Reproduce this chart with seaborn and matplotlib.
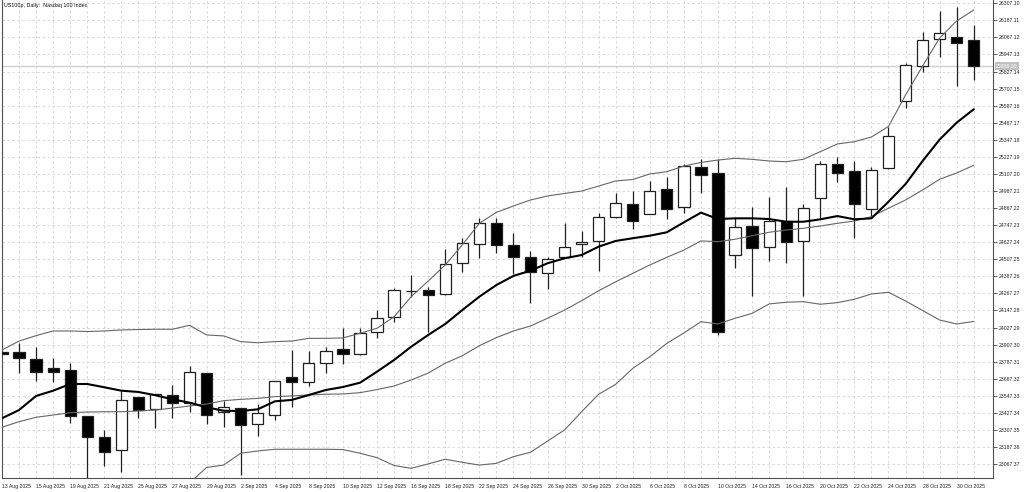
import numpy as np
import pandas as pd
import seaborn as sns
import matplotlib.pyplot as plt

# trading days shown on the chart (US100p, daily)
dates = pd.bdate_range('2025-08-13', '2025-10-31')
date_labels = [f"{d.day} {d.strftime('%b %Y')}" for d in dates]

opens = [23853, 23853, 23806, 23745, 23729, 23405, 23255, 23166, 23537, 23452,
         23551, 23494, 23705, 23435, 23459, 23347, 23412, 23677, 23646, 23776,
         23876, 23839, 23998, 24103, 24282, 24289, 24261, 24479, 24612, 24764,
         24610, 24525, 24408, 24521, 24612, 24638, 24802, 24894, 24823, 24999,
         24873, 25156, 25114, 24537, 24741, 24591, 24776, 24636, 24936, 25177,
         25130, 24861, 25147, 25620, 25868, 26054, 26068, 26049]
highs = [23855, 23920, 23890, 23813, 23778, 23405, 23307, 23581, 23539, 23560,
         23623, 23757, 23710, 23513, 23461, 23489, 23652, 23869, 23864, 23892,
         24022, 24026, 24150, 24303, 24397, 24310, 24577, 24655, 24795, 24795,
         24690, 24567, 24521, 24764, 24706, 24830, 24975, 24989, 25060, 25084,
         25177, 25209, 25210, 24795, 24877, 24947, 25013, 24896, 25200, 25224,
         25200, 25154, 25439, 25889, 26107, 26253, 26279, 26155]
lows = [23841, 23710, 23653, 23646, 23358, 22970, 23053, 23013, 23389, 23319,
        23389, 23435, 23349, 23330, 22990, 23264, 23377, 23470, 23616, 23705,
        23769, 23837, 23956, 24068, 24244, 23998, 24259, 24420, 24514, 24553,
        24404, 24202, 24296, 24520, 24525, 24425, 24795, 24718, 24822, 24790,
        24830, 24975, 23975, 24444, 24251, 24497, 24479, 24249, 24799, 25053,
        24659, 24807, 25145, 25569, 25826, 25927, 25728, 25768]
closes = [23843, 23815, 23717, 23717, 23405, 23255, 23154, 23515, 23447, 23558,
          23494, 23712, 23412, 23466, 23342, 23424, 23651, 23642, 23776, 23864,
          23839, 23987, 24096, 24291, 24286, 24256, 24472, 24619, 24764, 24608,
          24521, 24416, 24507, 24596, 24626, 24801, 24901, 24776, 24987, 24861,
          25163, 25100, 23998, 24732, 24589, 24776, 24631, 24866, 25175, 25116,
          24896, 25135, 25374, 25873, 26049, 26096, 26026, 25866]

ma_fast = [23389, 23447, 23546, 23583, 23630, 23630, 23607, 23583, 23574, 23551,
           23522, 23499, 23466, 23442, 23440, 23452, 23508, 23518, 23553, 23588,
           23609, 23639, 23717, 23799, 23892, 23975, 24052, 24150, 24244, 24326,
           24390, 24427, 24479, 24514, 24537, 24596, 24636, 24655, 24673, 24697,
           24767, 24835, 24790, 24795, 24795, 24790, 24771, 24771, 24788, 24811,
           24788, 24795, 24912, 25036, 25198, 25349, 25468, 25562]
bb_mid = [23326, 23365, 23396, 23412, 23428, 23433, 23435, 23435, 23440, 23447,
          23461, 23475, 23489, 23513, 23522, 23529, 23541, 23546, 23553, 23558,
          23560, 23569, 23591, 23616, 23658, 23707, 23776, 23829, 23899, 23956,
          24003, 24038, 24092, 24150, 24216, 24286, 24349, 24408, 24467, 24521,
          24572, 24636, 24631, 24648, 24673, 24697, 24713, 24725, 24741, 24760,
          24776, 24807, 24866, 24924, 24994, 25070, 25114, 25168]
bb_upper = [23869, 23932, 23970, 24003, 24003, 23999, 24003, 24010, 24013, 24015,
            24015, 24043, 23975, 23968, 23928, 23920, 23928, 23932, 23951, 23951,
            23954, 23987, 24022, 24103, 24244, 24354, 24467, 24608, 24760, 24837,
            24882, 24924, 24952, 24970, 24987, 25022, 25058, 25068, 25107, 25123,
            25163, 25188, 25205, 25217, 25210, 25198, 25193, 25210, 25264, 25318,
            25334, 25367, 25441, 25662, 25866, 26063, 26183, 26260]
bb_lower = [22782, 22797, 22821, 22821, 22854, 22867, 22866, 22861, 22867, 22880,
            22908, 22934, 23043, 23060, 23143, 23159, 23171, 23171, 23171, 23171,
            23169, 23143, 23112, 23057, 23037, 23068, 23101, 23079, 23060, 23072,
            23119, 23150, 23229, 23307, 23435, 23558, 23628, 23740, 23822, 23916,
            23989, 24068, 24052, 24092, 24127, 24193, 24205, 24209, 24191, 24202,
            24226, 24263, 24275, 24214, 24147, 24080, 24052, 24070]

price_ticks = 26307.10 - 119.99 * np.arange(28)

sns.set_style('white')
plt.rcParams['font.family'] = ['Liberation Sans', 'DejaVu Sans']

fig = plt.figure(figsize=(10.24, 4.92), dpi=100)
ax = fig.add_axes([2 / 1024, 14 / 492, 991 / 1024, 478 / 492])

x = np.arange(len(dates))
o, h, l, c = (np.array(v, dtype=float) for v in (opens, highs, lows, closes))
up = c >= o

# candles: wicks under bodies, indicator lines on top
ax.vlines(x, l, h, color='#202020', lw=0.9, zorder=2)
body_h = np.maximum(np.abs(c - o), 0.5)
ax.bar(x, body_h, bottom=np.minimum(o, c), width=0.66,
       color=np.where(up, 'white', 'black'), edgecolor='#202020',
       linewidth=0.9, zorder=3)

band_kw = dict(ax=ax, color='#666666', linewidth=0.8, zorder=4, legend=False)
sns.lineplot(x=x, y=bb_upper, **band_kw)
sns.lineplot(x=x, y=bb_mid, **band_kw)
sns.lineplot(x=x, y=bb_lower, **band_kw)
sns.lineplot(x=x, y=ma_fast, ax=ax, color='black', linewidth=1.5, zorder=5, legend=False)

# last price line + label
ax.axhline(c[-1], color='#d0d0d0', lw=1.0, zorder=1)
ax.text(1.003, c[-1], f"{c[-1]:.2f}", transform=ax.get_yaxis_transform(),
        ha='left', va='center', fontsize=3.7, color='white',
        bbox=dict(boxstyle='square,pad=0.2', fc='#c0c0c0', ec='none'))

ax.text(0.002, 0.993, "US100p, Daily:  Nasdaq 100 Index", transform=ax.transAxes,
        ha='left', va='top', fontsize=3.9, color='#101010')

ax.set_xlim(0.04, 58.13)
ax.set_ylim(22969.0, 26330.3)

ax.yaxis.tick_right()
ax.set_yticks(price_ticks)
ax.set_yticklabels([f"{v:.2f}" for v in price_ticks])
ax.set_xticks(x[::2])
ax.set_xticklabels(date_labels[::2])
ax.set_xticks(x, minor=True)
plt.setp(ax.get_xticklabels(), ha='left')

ax.tick_params(axis='y', which='major', direction='out', length=3, width=0.6,
               pad=1, labelsize=3.7, color='#404040', labelcolor='#202020')
ax.tick_params(axis='x', which='major', direction='out', length=3, width=0.6,
               pad=1, labelsize=3.7, color='#404040', labelcolor='#202020')
ax.tick_params(axis='x', which='minor', length=0)

grid_kw = dict(color='#d2d2d2', linestyle=(0, (3, 3)), linewidth=0.6)
ax.grid(True, axis='x', which='both', **grid_kw)
ax.grid(True, axis='y', which='major', **grid_kw)
ax.set_axisbelow(True)

for side in ('left', 'bottom', 'right'):
    ax.spines[side].set_color('#505050')
    ax.spines[side].set_linewidth(0.8)
ax.spines['top'].set_visible(False)

ax.set_xlabel('')
ax.set_ylabel('')

fig.savefig('out.png', dpi=100)
plt.close()
